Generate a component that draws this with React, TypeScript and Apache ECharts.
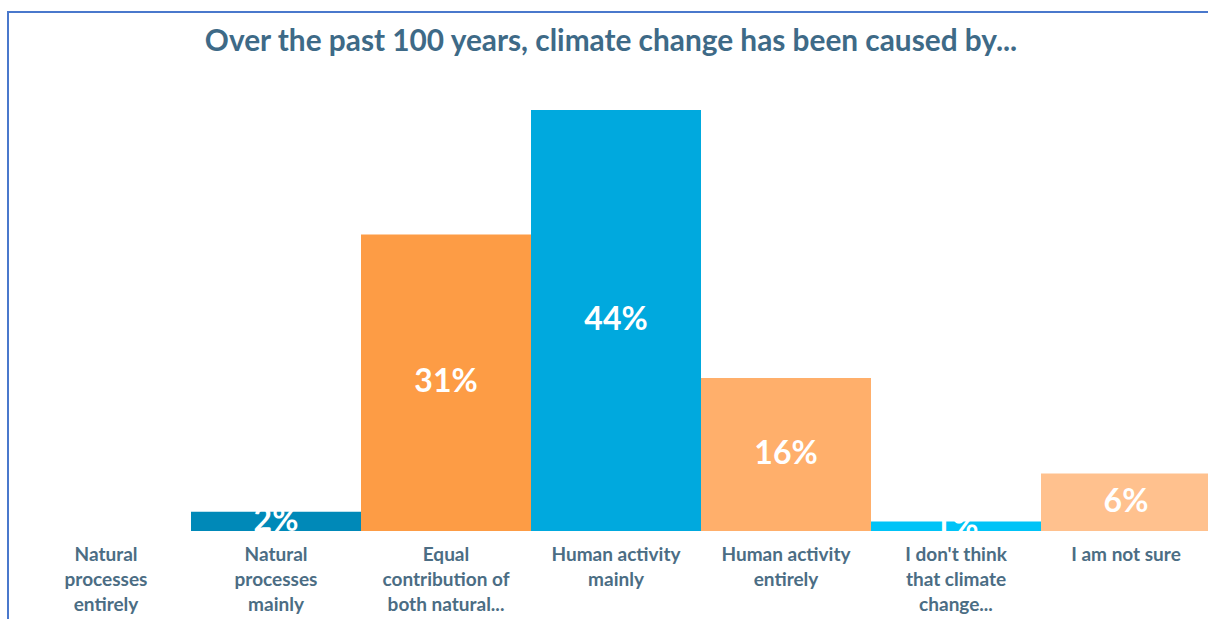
import React, { useEffect, useRef } from "react";
import * as echarts from "echarts";

const title = "Over the past 100 years, climate change has been caused by...";
const categories = [
  "Natural processes entirely",
  "Natural processes mainly",
  "Equal contribution of both natural...",
  "Human activity mainly",
  "Human activity entirely",
  "I don't think that climate change...",
  "I am not sure",
];
const tickLabels = [
  "Natural\nprocesses\nentirely",
  "Natural\nprocesses\nmainly",
  "Equal\ncontribution of\nboth natural...",
  "Human activity\nmainly",
  "Human activity\nentirely",
  "I don't think\nthat climate\nchange...",
  "I am not sure",
];
const values = [0, 2, 31, 44, 16, 1, 6];
const colors = ["#0089b8", "#0089b8", "#fd9c45", "#00a9de", "#ffaf6b", "#00c3f7", "#ffc18e"];

export default function App() {
  const ref = useRef<HTMLDivElement>(null);
  useEffect(() => {
    if (!ref.current) return;
    const chart = echarts.init(ref.current, null, { renderer: "svg" });
    chart.setOption({
      animation: false,
      backgroundColor: "#ffffff",
      title: {
        text: title,
        left: 606,
        textAlign: "center",
        top: 19,
        textStyle: { fontFamily: "Lato", fontWeight: "bold", fontSize: 29.8, color: "#3e6a87" },
      },
      grid: { left: 21, width: 1190, top: 110, height: 421, containLabel: false },
      xAxis: {
        type: "category",
        data: categories,
        axisLine: { show: false },
        axisTick: { show: false },
        axisLabel: {
          interval: 0,
          margin: 10,
          fontFamily: "Lato",
          fontWeight: "bold",
          fontSize: 19,
          lineHeight: 25,
          color: "#4b6d84",
          verticalAlign: "top",
          formatter: (_v: string, i: number) => tickLabels[i],
        },
      },
      yAxis: { type: "value", min: 0, max: 44, show: false, splitLine: { show: false } },
      series: [
        {
          type: "bar",
          barCategoryGap: "0%",
          data: values.map((v, i) => ({ value: v, itemStyle: { color: colors[i] } })),
          label: {
            show: true,
            position: "inside",
            offset: [0, -3],
            formatter: (p: any) => (p.value > 0 ? p.value + "%" : ""),
            fontFamily: "Lato",
            fontWeight: "bold",
            fontSize: 32,
            color: "#ffffff",
          },
        },
      ],
      graphic: [
        { type: "line", shape: { x1: 8, y1: 12, x2: 8, y2: 619 }, style: { stroke: "#4a78cc", lineWidth: 2 } },
        { type: "line", shape: { x1: 7, y1: 12, x2: 1208, y2: 12 }, style: { stroke: "#4a78cc", lineWidth: 2 } },
      ],
    });
    return () => chart.dispose();
  }, []);
  return (
    <div style={{ position: "absolute", left: 0, top: 0, width: 1208, height: 619, overflow: "hidden" }}>
      <div ref={ref} style={{ width: 1230, height: 619 }} />
    </div>
  );
}
